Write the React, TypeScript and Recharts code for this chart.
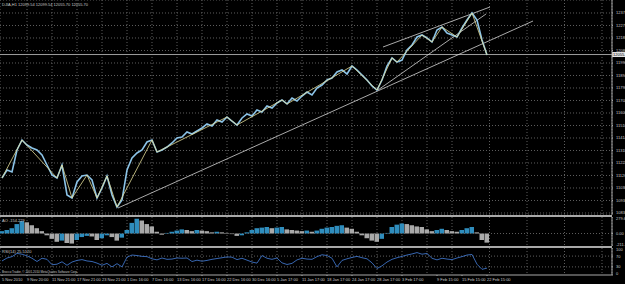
import React from "react";
import {
  ComposedChart,
  Line,
  Bar,
  Cell,
  XAxis,
  YAxis,
  CartesianGrid,
  ReferenceLine,
} from "recharts";

// header / indicator captions
const symbolTitle = "DJIA,H1  12099.54 12099.54 12055.70 12055.70";
const aoTitle = "AO -154.229";
const rsiTitle = "RSI(14) 25.5120";
const copyright = "Brocco Trader, \u00a9 2001-2010 MetaQuotes Software Corp.";
const lastPrice = 12055.7;

// time axis (bar index -> label)
const timeTickBars = [0, 5, 10, 15, 20, 25, 30, 35, 40, 45, 50, 55, 60, 65, 70, 75, 80, 87, 92, 97];
const timeLabels = [
  "5 Nov 2010", "9 Nov 20:00", "11 Nov 21:00", "17 Nov 21:00", "23 Nov 21:00",
  "1 Dec 16:00", "7 Dec 16:00", "13 Dec 16:00", "17 Dec 16:00", "22 Dec 16:00",
  "30 Dec 16:00", "5 Jan 17:00", "11 Jan 17:00", "18 Jan 17:00", "24 Jan 17:00",
  "28 Jan 17:00", "3 Feb 17:00", "9 Feb 15:00", "15 Feb 15:00", "22 Feb 15:00",
];

// price scale labels
const priceTicks = [
  12374.6, 12278.6, 12182.6, 12086.6, 11990.6, 11894.6, 11798.6, 11702.6, 11606.6,
  11510.6, 11414.6, 11318.6, 11222.6, 11126.6, 11030.6, 10934.6, 10838.6,
];
const aoTicks = [279.606, 0, -211.177];
const rsiTicks = [100, 70, 30, 0];

// closes, one sample every few hourly bars
const closes = [
  11107.4, 11168.8, 11153.4, 11322.4, 11399.2, 11360.8, 11337.8, 11322.4, 11284.0, 11207.2,
  11130.4, 11107.4, 11207.2, 10976.8, 10953.8, 11076.6, 11122.7, 11130.4, 11092.0, 10953.8,
  11030.6, 11122.7, 10976.8, 10884.6, 10938.4, 11168.8, 11261.0, 11299.4, 11322.4, 11383.8,
  11399.2, 11307.0, 11322.4, 11345.4, 11376.2, 11414.6, 11422.2, 11460.6, 11445.3, 11468.3,
  11491.4, 11522.1, 11506.7, 11552.8, 11537.4, 11575.8, 11545.1, 11514.4, 11568.2, 11598.9,
  11583.5, 11629.6, 11614.2, 11660.3, 11645.0, 11683.4, 11706.4, 11675.7, 11721.8, 11698.7,
  11737.1, 11767.8, 11744.8, 11798.6, 11821.6, 11860.0, 11875.4, 11921.4, 11936.8, 11906.1,
  11967.5, 11936.8, 11898.4, 11860.0, 11813.9, 11783.2, 11860.0, 11967.5, 12029.0, 11998.2,
  12013.6, 12090.4, 12128.8, 12190.2, 12205.6, 12182.6, 12151.8, 12244.0, 12267.0, 12221.0,
  12205.6, 12190.2, 12259.4, 12320.8, 12374.6, 12320.8, 12167.2, 12052.0,
];

// zigzag swing points (bar indexes into closes)
const zigzagPivots = [0, 4, 11, 12, 14, 17, 19, 21, 23, 30, 31, 45, 47, 56, 57, 70, 75, 78, 79, 84, 86, 88, 91, 94, 97];

const aoValues = [
  40, 60, 90, 160, 210, 190, 140, 90, 40, -30,
  -90, -140, -120, -160, -170, -110, -60, -40, -50, -110,
  -80, -30, -60, -120, -70, 60, 180, 250, 220, 160,
  120, 30, -20, 10, 30, 50, 70, 60, 40, 60,
  50, 40, 20, 30, 20, 10, -10, -40, -30, 20,
  60, 90, 100, 110, 90, 100, 110, 70, 60, 50,
  40, 50, 30, 50, 80, 100, 110, 130, 140, 100,
  80, 30, -30, -80, -120, -140, -90, 10, 110, 150,
  170, 160, 140, 120, 110, 70, 40, 60, 80, 60,
  40, 30, 60, 90, 110, 20, -110, -154.2,
];

const rsiValues = [
  52, 63, 68, 80, 77, 71, 62, 50, 62, 58,
  38, 40, 49, 36, 48, 54, 57, 52, 50, 44,
  36, 43, 30, 42, 30, 66, 74, 72, 69, 68,
  60, 56, 63, 58, 59, 63, 62, 63, 50, 55,
  51, 54, 58, 61, 64, 67, 66, 57, 62, 55,
  48, 44, 72, 62, 58, 63, 45, 39, 43, 56,
  62, 59, 58, 68, 75, 72, 62, 30, 54, 60,
  65, 69, 64, 60, 45, 24, 34, 48, 58, 64,
  69, 74, 78, 83, 77, 80, 62, 56, 62, 59,
  57, 63, 68, 74, 76, 40, 21, 25.5,
];

// hand drawn trend lines: [bar, price] end points
const supportLine = [[23.2, 10877.0], [106.2, 12313.1]];
const wedgeLower = [[75.2, 11783.2], [96.8, 12366.9]];
const wedgeUpper = [[76.2, 12113.4], [97.6, 12420.6]];
const trendLines = [supportLine, wedgeLower, wedgeUpper];

const data = closes.map((close, i) => ({
  bar: i,
  close,
  ao: aoValues[i],
  rsi: rsiValues[i],
}));

const zigzagData = zigzagPivots.map((i) => ({ bar: i, zigzag: closes[i] }));

const W = 625;
const AXIS_W = 13;
const X_DOMAIN: [number, number] = [-0.4, 122];
const gridBars = Array.from({ length: 49 }, (_, k) => k * 2.5);
const FONT = "'Liberation Sans', 'DejaVu Sans', sans-serif";
const TXT = "#c8c8c8";
const GRID = "#5e5e5e";

// labels at the top/bottom edge of a sub-window are nudged inside it
const RightTick = (props: any) => {
  const { x, y, payload, fmt, top, bottom } = props;
  const dy = payload.value === top ? 1.6 : payload.value === bottom ? -1.6 : 0;
  return (
    <text x={x + 1} y={y + dy} fill={TXT} fontSize={4} fontFamily={FONT} dominantBaseline="central">
      {fmt(payload.value)}
    </text>
  );
};

const TimeTick = (props: any) => {
  const { x, y, payload } = props;
  const idx = timeTickBars.indexOf(payload.value);
  return (
    <text x={x} y={y + 3} fill={TXT} fontSize={4} fontFamily={FONT}>
      {timeLabels[idx]}
    </text>
  );
};

const BidLabel = (props: any) => {
  const { viewBox } = props;
  const x = viewBox.x + viewBox.width;
  return (
    <g>
      <rect x={x} y={viewBox.y - 2.5} width={AXIS_W} height={5} fill="#e6e6e6" />
      <text x={x + 1} y={viewBox.y} fontSize={4} fontFamily={FONT} fill="#000" dominantBaseline="central">
        {lastPrice.toFixed(2)}
      </text>
    </g>
  );
};

export default function App() {
  return (
    <div style={{ position: "fixed", left: 0, top: 0, width: W, height: 284, background: "#000", overflow: "hidden" }}>
      {/* price window */}
      <div style={{ position: "absolute", left: 0, top: 0 }}>
        <ComposedChart width={W} height={215} data={data} margin={{ top: 0, right: 0, bottom: 0, left: 0 }}>
          <CartesianGrid stroke={GRID} strokeDasharray="1 2" />
          <XAxis dataKey="bar" type="number" domain={X_DOMAIN} ticks={gridBars} allowDataOverflow hide />
          <YAxis
            orientation="right"
            width={AXIS_W}
            domain={[10823.2, 12474.4]}
            ticks={priceTicks}
            interval={0}
            allowDataOverflow
            axisLine={{ stroke: "#a8a8a8" }}
            tickLine={{ stroke: "#a8a8a8" }}
            tickSize={1}
            tick={<RightTick fmt={(v: number) => v.toFixed(1)} />}
          />
          <ReferenceLine y={lastPrice} stroke="#9c9c9c" label={<BidLabel />} />
          {trendLines.map((seg, k) => (
            <ReferenceLine
              key={k}
              segment={[{ x: seg[0][0], y: seg[0][1] }, { x: seg[1][0], y: seg[1][1] }]}
              stroke="#d4d4d4"
              strokeWidth={0.8}
            />
          ))}
          <Line dataKey="close" stroke="#8cc4e8" strokeWidth={1.6} dot={false} activeDot={false} isAnimationActive={false} />
          <Line
            data={zigzagData}
            dataKey="zigzag"
            stroke="#e2dc98"
            strokeWidth={0.8}
            dot={false}
            activeDot={false}
            isAnimationActive={false}
          />
        </ComposedChart>
      </div>

      <div style={{ position: "absolute", left: 0, top: 215, width: 612, height: 2, background: "#a8a8a8" }} />

      {/* AO window */}
      <div style={{ position: "absolute", left: 0, top: 217 }}>
        <ComposedChart width={W} height={29} data={data} margin={{ top: 0, right: 0, bottom: 0, left: 0 }}>
          <CartesianGrid stroke={GRID} strokeDasharray="1 2" horizontal={false} />
          <XAxis dataKey="bar" type="number" domain={X_DOMAIN} ticks={gridBars} allowDataOverflow hide />
          <YAxis
            orientation="right"
            width={AXIS_W}
            domain={[-211.177, 279.606]}
            ticks={aoTicks}
            interval={0}
            allowDataOverflow
            axisLine={{ stroke: "#a8a8a8" }}
            tickLine={{ stroke: "#a8a8a8" }}
            tickSize={1}
            tick={<RightTick top={279.606} bottom={-211.177} fmt={(v: number) => (v === 0 ? "0.00" : v.toFixed(3))} />}
          />
          <ReferenceLine y={0} stroke={GRID} strokeDasharray="1 2" />
          <Bar dataKey="ao" barSize={5} isAnimationActive={false}>
            {data.map((d, i) => (
              <Cell key={i} fill={i > 0 && d.ao < aoValues[i - 1] ? "#a9a9a9" : "#2f8dbd"} />
            ))}
          </Bar>
        </ComposedChart>
      </div>

      <div style={{ position: "absolute", left: 0, top: 246, width: 612, height: 2, background: "#a8a8a8" }} />

      {/* RSI window + time scale */}
      <div style={{ position: "absolute", left: 0, top: 248 }}>
        <ComposedChart width={W} height={36} data={data} margin={{ top: 0, right: 0, bottom: 0, left: 0 }}>
          <CartesianGrid xAxisId="grid" stroke={GRID} strokeDasharray="1 2" horizontal={false} />
          <XAxis xAxisId="grid" dataKey="bar" type="number" domain={X_DOMAIN} ticks={gridBars} allowDataOverflow hide />
          <XAxis
            dataKey="bar"
            type="number"
            domain={X_DOMAIN}
            ticks={timeTickBars}
            interval={0}
            allowDataOverflow
            height={9}
            axisLine={{ stroke: "#a8a8a8" }}
            tickLine={{ stroke: "#a8a8a8" }}
            tickSize={1}
            tick={<TimeTick />}
          />
          <YAxis
            orientation="right"
            width={AXIS_W}
            domain={[0, 100]}
            ticks={rsiTicks}
            interval={0}
            axisLine={{ stroke: "#a8a8a8" }}
            tickLine={{ stroke: "#a8a8a8" }}
            tickSize={1}
            tick={<RightTick top={100} bottom={0} fmt={(v: number) => String(v)} />}
          />
          <ReferenceLine y={70} stroke={GRID} strokeDasharray="1 2" />
          <ReferenceLine y={30} stroke={GRID} strokeDasharray="1 2" />
          <Line dataKey="rsi" stroke="#3d72c4" strokeWidth={0.9} dot={false} activeDot={false} isAnimationActive={false} />
        </ComposedChart>
      </div>

      {/* captions */}
      <svg width={W} height={284} style={{ position: "absolute", left: 0, top: 0, pointerEvents: "none" }}>
        <text x={2} y={6} fontSize={4} fontFamily={FONT} fill={TXT}>{symbolTitle}</text>
        <text x={2} y={222} fontSize={4} fontFamily={FONT} fill={TXT}>{aoTitle}</text>
        <text x={2} y={253} fontSize={4} fontFamily={FONT} fill={TXT}>{rsiTitle}</text>
        <text x={2} y={273} fontSize={3} fontFamily={FONT} fill={TXT}>{copyright}</text>
      </svg>
    </div>
  );
}
